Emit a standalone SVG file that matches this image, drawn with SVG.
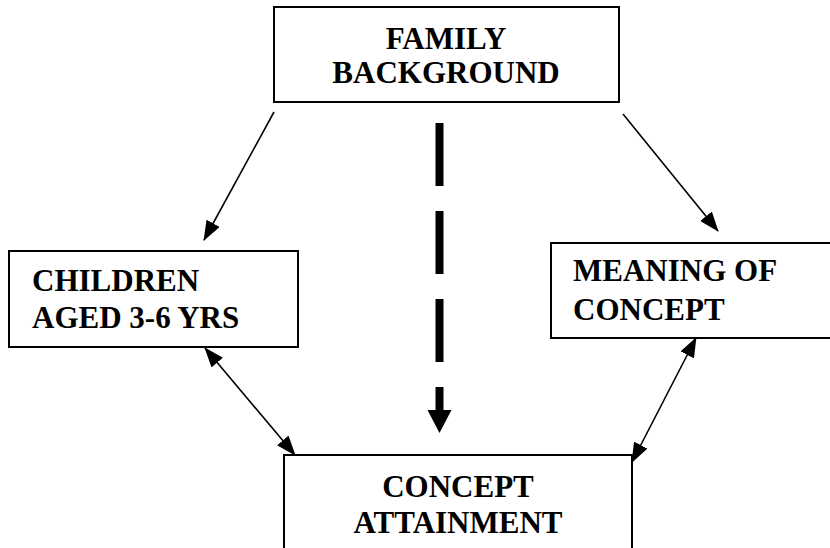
<svg xmlns="http://www.w3.org/2000/svg" width="830" height="548" viewBox="0 0 830 548">
<style>
.box{fill:#fff;stroke:#000;stroke-width:2}
.t{font-family:"Liberation Serif","DejaVu Serif",serif;font-weight:bold;font-size:31px;fill:#000}
.c{text-anchor:middle}
.ln{stroke:#000;stroke-width:1.6;fill:none}
</style>
<defs>
<marker id="ah" refX="19" refY="7.5" markerWidth="20" markerHeight="15" markerUnits="userSpaceOnUse" orient="auto-start-reverse">
<path d="M0,0 L20,7.5 L0,15 Z" fill="#000"/>
</marker>
</defs>
<rect width="830" height="548" fill="#fff"/>
<g id="family">
<rect class="box" x="274" y="7" width="345" height="95"/>
<text class="t c" x="446" y="49">FAMILY</text>
<text class="t c" x="446" y="83">BACKGROUND</text>
</g>
<g id="children">
<rect class="box" x="9" y="251" width="289" height="96"/>
<text class="t" x="32" y="291">CHILDREN</text>
<text class="t" x="32" y="328">AGED 3-6 YRS</text>
</g>
<g id="meaning">
<rect class="box" x="551" y="243" width="300" height="95"/>
<text class="t" x="573" y="281">MEANING OF</text>
<text class="t" x="573" y="320">CONCEPT</text>
</g>
<g id="attainment">
<rect class="box" x="284" y="455" width="348" height="110"/>
<text class="t c" x="458" y="497">CONCEPT</text>
<text class="t c" x="458" y="533">ATTAINMENT</text>
</g>
<g id="connectors">
<line class="ln" x1="274" y1="112" x2="204" y2="240" marker-end="url(#ah)"/>
<line class="ln" x1="623" y1="114" x2="718" y2="231" marker-end="url(#ah)"/>
<line class="ln" x1="205" y1="348" x2="295" y2="455" marker-start="url(#ah)" marker-end="url(#ah)"/>
<line class="ln" x1="696" y1="338" x2="632" y2="462" marker-start="url(#ah)" marker-end="url(#ah)"/>
<line x1="439.5" y1="123" x2="439.5" y2="411" stroke="#000" stroke-width="8" stroke-dasharray="63 25"/>
<polygon points="427.5,410 451.5,410 439.5,433" fill="#000"/>
</g>
</svg>
